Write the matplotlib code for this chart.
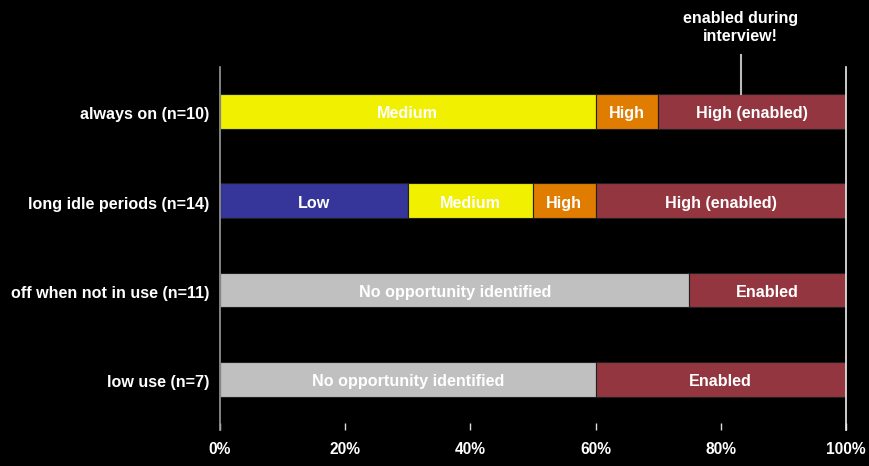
import matplotlib.pyplot as plt
import numpy as np

plt.rcParams['font.family'] = ['Liberation Sans', 'DejaVu Sans']

# rows listed bottom to top
categories = ['low use (n=7)', 'off when not in use (n=11)',
              'long idle periods (n=14)', 'always on (n=10)']

# each row: list of (label, percent, colour key)
segments = [
    [('No opportunity identified', 60, 'none'), ('Enabled', 40, 'enabled')],
    [('No opportunity identified', 75, 'none'), ('Enabled', 25, 'enabled')],
    [('Low', 30, 'low'), ('Medium', 20, 'medium'), ('High', 10, 'high'),
     ('High (enabled)', 40, 'enabled')],
    [('Medium', 60, 'medium'), ('High', 10, 'high'), ('High (enabled)', 30, 'enabled')],
]

colors = {'none': '#C0C0C0', 'enabled': '#933640', 'low': '#35359A',
          'medium': '#F0F000', 'high': '#E07C00'}

xticks = [0, 20, 40, 60, 80, 100]
note_x = 83.2
note_text = 'enabled during\ninterview!'

fig = plt.figure(figsize=(8.7, 4.66), dpi=100)
fig.patch.set_facecolor('black')
ax = fig.add_axes([0.2529, 0.0773, 0.7195, 0.7789])
ax.set_facecolor('black')

bar_h = 0.39
for i, row in enumerate(segments):
    left = 0
    for label, val, key in row:
        ax.barh(i + 0.02, val, left=left, height=bar_h, color=colors[key],
                edgecolor='#202020', linewidth=0.8)
        ax.text(left + val / 2, i + 0.01, label, ha='center', va='center_baseline',
                color='white', fontsize=11.6, fontweight='bold')
        left += val

ax.set_xlim(0, 100)
ax.set_ylim(-0.55, 3.52)

ax.set_yticks(range(len(categories)))
ax.set_yticklabels(categories, color='white', fontsize=11.6, fontweight='bold')
ax.tick_params(axis='y', length=0, pad=8)

ax.set_xticks(xticks)
ax.set_xticklabels([f'{t}%' for t in xticks], color='white', fontsize=11.2,
                   fontweight='bold')
ax.tick_params(axis='x', direction='in', length=5, width=1, color='#DDDDDD', pad=9)

for s in ['top', 'bottom']:
    ax.spines[s].set_visible(False)
ax.spines['left'].set_color('#999999')
ax.spines['left'].set_linewidth(1.2)
ax.spines['right'].set_color('#EEEEEE')
ax.spines['right'].set_linewidth(1.2)

# annotation above the top bar
ax.plot([note_x, note_x], [3.02 + bar_h / 2, 3.65], color='#BBBBBB', lw=1.5,
        clip_on=False)
ax.text(note_x, 3.965, note_text, ha='center', va='center', color='white',
        fontsize=11.5, fontweight='bold', linespacing=1.3, clip_on=False)

fig.savefig('out.png', dpi=100, facecolor='black')
